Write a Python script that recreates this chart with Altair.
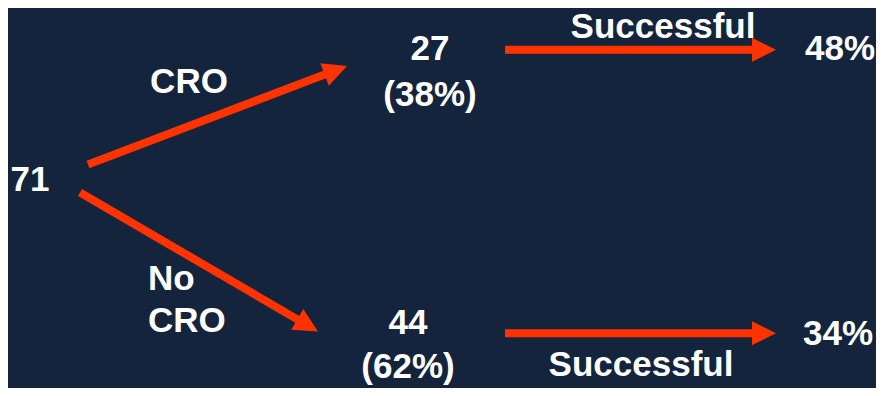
import math
import altair as alt
import pandas as pd

# ---------------- data ----------------
total = 71
branch_labels = ["CRO", "No\nCRO"]
branch_counts = [27, 44]
branch_shares = ["38%", "62%"]
outcome_label = "Successful"
success_rates = ["48%", "34%"]

# ---------------- layout (reference pixels) ----------------
BG = "#13243c"
ARROW = "#ff3300"
FONT = "Liberation Sans"
FS = 35
OFF = 8
W, H = 884 - 2 * OFF, 396 - 2 * OFF   # chart fits inside the page margins
LINE_GAP = 44


def ty(y):
    # squeeze the reference's vertical layout into the available height
    return 12 + (y - 10) * 0.965


root_pos = (30, 182)
branch_label_pos = [(189, 81, "center"), (148, 285, "left")]
count_pos = [(430, 47), (408, 331)]
share_pos = [(430, 94), (408, 376)]
outcome_label_pos = [(663, 24), (641, 374)]
rate_pos = [(840, 47), (838, 342)]
diag_arrows = [((88, 168), (347, 66)), ((80, 197), (318, 341))]
horiz_arrows = [((505, 49), (776, 49)), ((505, 343), (776, 343))]
HEAD = 24

# text rows
rows = []
rows.append(dict(x=root_pos[0], y=root_pos[1], t=str(total), align="center"))
for (x, y, al), lab in zip(branch_label_pos, branch_labels):
    for i, line in enumerate(lab.split("\n")):
        rows.append(dict(x=x, y=y + LINE_GAP * i, t=line, align=al))
for (x, y), c in zip(count_pos, branch_counts):
    rows.append(dict(x=x, y=y, t=str(c), align="center"))
for (x, y), s in zip(share_pos, branch_shares):
    rows.append(dict(x=x, y=y, t=f"({s})", align="center"))
for (x, y) in outcome_label_pos:
    rows.append(dict(x=x, y=y, t=outcome_label, align="center"))
for (x, y), r in zip(rate_pos, success_rates):
    rows.append(dict(x=x, y=y, t=r, align="center"))
# cap-center -> alphabetic baseline
for r in rows:
    r["yb"] = ty(r["y"]) + 0.358 * FS
text_df = pd.DataFrame(rows)

# arrows
lines, heads = [], []
for (x0, y0), (x1, y1) in diag_arrows + horiz_arrows:
    y0, y1 = ty(y0), ty(y1)
    dx, dy = x1 - x0, y1 - y0
    L = math.hypot(dx, dy)
    ux, uy = dx / L, dy / L
    cx, cy = x1 - ux * HEAD / 2, y1 - uy * HEAD / 2
    ang = math.degrees(math.atan2(dy, dx)) % 360
    lines.append(dict(x=x0, y=y0, x2=cx, y2=cy))
    heads.append(dict(x=cx, y=cy, angle=ang))
line_df = pd.DataFrame(lines)
head_df = pd.DataFrame(heads)

xs = alt.Scale(domain=[OFF, OFF + W], zero=False, nice=False)
ys = alt.Scale(domain=[OFF, OFF + H], reverse=True, zero=False, nice=False)
X = lambda f: alt.X(f, type="quantitative", scale=xs, axis=None)
Y = lambda f: alt.Y(f, type="quantitative", scale=ys, axis=None)

line_layer = alt.Chart(line_df).mark_rule(
    color=ARROW, strokeWidth=8, strokeCap="butt"
).encode(x=X("x"), y=Y("y"), x2="x2:Q", y2="y2:Q")

head_layer = alt.Chart(head_df).mark_point(
    shape="M1,0L-1,1L-1,-1Z", filled=True, color=ARROW, opacity=1,
    size=HEAD * HEAD, strokeWidth=0,
).encode(x=X("x"), y=Y("y"), angle=alt.Angle("angle:Q", scale=None))

text_layers = []
for al in ["center", "left"]:
    sub = text_df[text_df["align"] == al]
    text_layers.append(
        alt.Chart(sub).mark_text(
            color="white", font=FONT, fontSize=FS, fontWeight="bold",
            align=al, baseline="alphabetic",
        ).encode(x=X("x"), y=Y("yb"), text="t:N")
    )

chart = alt.layer(line_layer, head_layer, *text_layers).properties(
    width=W, height=H, background=BG, padding=0,
    autosize=alt.AutoSizeParams(type="none"),
).configure_view(stroke=None)

chart.save("out.html", embed_options={"renderer": "svg", "actions": False})
